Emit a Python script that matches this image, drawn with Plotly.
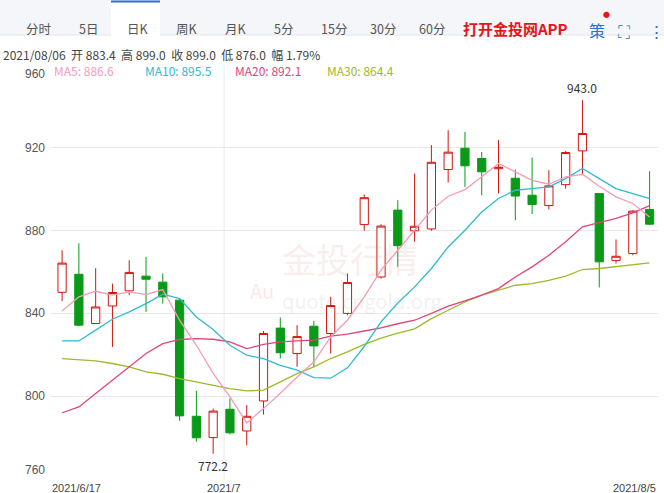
import plotly.graph_objects as go

dates = (["2021/6/%d" % d for d in [17,18,21,22,23,24,25,28,29,30]] +
         ["2021/7/%d" % d for d in [1,2,5,6,7,8,9,12,13,14,15,16,19,20,21,22,23,26,27,28,29,30]] +
         ["2021/8/%d" % d for d in [2,3,4,5]])
opens = [850.2,858.9,835.1,843.6,850.9,858.0,855.1,846.4,790.3,780.0,793.7,783.2,797.7,832.9,820.6,833.8,830.3,
         840.0,882.9,857.6,889.9,879.9,880.8,909.5,919.8,914.8,909.9,905.3,897.1,892.1,902.2,918.5,897.9,865.6,868.9,890.2]
highs = [870.5,873.9,861.8,854.4,865.7,867.3,859.3,847.2,802.6,794.0,798.9,795.7,831.5,838.0,834.3,836.4,848.0,
         859.3,897.4,883.1,894.7,907.6,921.3,928.5,927.7,918.0,923.7,909.5,915.3,909.2,918.5,943.0,898.0,875.7,889.9,908.7]
lows = [845.9,833.8,835.0,823.8,848.8,840.7,844.7,788.1,778.0,772.2,781.5,776.3,791.1,818.2,814.2,814.2,820.6,
        839.1,879.9,856.8,862.5,874.6,879.9,903.2,901.1,897.1,897.9,885.0,888.0,890.2,900.3,906.8,852.5,864.1,868.1,882.6]
closes = [864.3,834.3,843.1,850.1,859.8,856.5,848.0,790.5,779.9,792.8,782.3,790.3,830.3,821.0,828.8,824.3,843.8,
          854.9,895.9,882.2,872.7,882.1,913.0,917.9,911.3,908.4,910.6,896.7,892.6,901.6,917.7,926.9,864.9,867.6,889.4,883.1]
ma5 = [841.2,848.0,850.7,848.8,850.4,849.1,851.5,836.7,824.6,811.0,799.7,787.1,794.0,801.4,809.3,816.6,828.6,
       836.7,848.0,860.9,870.5,880.2,889.9,896.6,899.8,906.0,912.4,908.4,904.3,902.4,906.0,907.2,901.4,896.3,893.1,886.6]
ma10 = [826.7,826.7,831.9,837.2,840.7,844.7,849.3,847.2,838.3,832.2,824.6,819.8,818.2,814.9,812.6,809.0,808.7,
        813.7,824.0,835.9,845.0,852.8,861.7,872.1,880.2,889.0,895.5,899.5,900.3,901.1,905.1,910.0,905.1,900.3,897.9,895.5]
ma20 = [792.0,794.8,801.3,807.7,814.2,820.6,825.4,827.4,827.8,827.5,826.2,823.0,825.0,826.2,826.7,827.1,829.0,
        830.0,831.5,833.0,835.0,836.7,840.0,843.5,846.0,848.8,852.0,857.6,862.5,868.1,874.6,881.8,883.8,885.9,888.6,892.1]
ma30 = [818.2,817.7,817.1,815.8,814.2,811.7,810.6,808.5,806.9,805.3,803.7,802.6,802.9,806.9,810.9,814.2,818.2,
        821.4,825.0,828.0,830.5,832.5,837.5,841.5,845.5,848.8,851.2,853.6,854.4,856.0,858.0,861.2,861.7,862.5,863.3,864.4]
yticks = [760, 800, 840, 880, 920, 960]
tabs = ["分时", "5日", "日K", "周K", "月K", "5分", "15分", "30分", "60分"]

x = list(range(len(dates)))
fig = go.Figure()
fig.add_trace(go.Candlestick(x=x, open=opens, high=highs, low=lows, close=closes,
    increasing=dict(line=dict(color="#d0160f", width=1), fillcolor="white"),
    decreasing=dict(line=dict(color="#0a9a17", width=1), fillcolor="#0a9a17"),
    whiskerwidth=0, showlegend=False, hoverinfo="skip"))
for vals, col in [(ma30, "#9cba2a"), (ma20, "#e0457b"), (ma10, "#2cbcd0"), (ma5, "#f29db5")]:
    fig.add_trace(go.Scatter(x=x, y=vals, mode="lines", line=dict(color=col, width=1.3),
                             showlegend=False, hoverinfo="skip"))

fig.update_layout(width=664, height=493, margin=dict(l=50, r=6, t=65, b=14),
    paper_bgcolor="white", plot_bgcolor="white", font=dict(family="Noto Sans CJK SC", color="#555", size=12),
    xaxis=dict(range=[-0.72, 35.5], showgrid=False, showticklabels=False, rangeslider=dict(visible=False),
               zeroline=False, fixedrange=True),
    yaxis=dict(range=[760, 960], tickvals=yticks, gridcolor="#e8e8e8", zeroline=False,
               showticklabels=False, ticks=""))

def px2paper_x(px):
    return (px - 50) / 608
def py2paper_y(py):
    return (479 - py) / 414

shapes = []
shapes.append(dict(type="rect", xref="paper", yref="paper", x0=px2paper_x(0), x1=px2paper_x(664),
              y0=py2paper_y(35), y1=py2paper_y(0), fillcolor="#f4f6f9", line=dict(width=0)))
shapes.append(dict(type="line", xref="paper", yref="paper", x0=px2paper_x(0), x1=px2paper_x(664),
              y0=py2paper_y(35), y1=py2paper_y(35), line=dict(color="#e3e6ea", width=1)))
shapes.append(dict(type="rect", xref="paper", yref="paper", x0=px2paper_x(111), x1=px2paper_x(160),
              y0=py2paper_y(36), y1=py2paper_y(1), fillcolor="white", line=dict(width=0)))
shapes.append(dict(type="line", xref="paper", yref="paper", x0=px2paper_x(111), x1=px2paper_x(160),
              y0=py2paper_y(1.5), y1=py2paper_y(1.5), line=dict(color="#2a6fdb", width=2)))
shapes.append(dict(type="line", xref="x", yref="paper", x0=9.65, x1=9.65, y0=0, y1=1,
                   line=dict(color="#e8e8e8", width=1), layer="below"))
fig.update_layout(shapes=shapes)

ann = []
tab_left = [24, 77, 125, 174, 223, 272, 319, 368, 417]
for t, tx in zip(tabs, tab_left):
    ann.append(dict(x=px2paper_x(tx), y=py2paper_y(17), xanchor="left", text=t, font=dict(size=12.5, color="#555")))
ann.append(dict(x=px2paper_x(461), y=py2paper_y(16), xanchor="left", text="<b>打开金投网APP</b>", font=dict(size=15, color="#e8141c")))
ann.append(dict(x=px2paper_x(587), y=py2paper_y(16), xanchor="left", text="策", font=dict(size=16, color="#2a6fdb")))
ann.append(dict(x=px2paper_x(601), y=py2paper_y(7), xanchor="left", text="●", font=dict(size=7, color="#e8141c")))
ann.append(dict(x=px2paper_x(616), y=py2paper_y(16), xanchor="left", text="⛶", font=dict(size=17, color="#2a6fdb")))
ann.append(dict(x=px2paper_x(646), y=py2paper_y(16), xanchor="left", text="⋮", font=dict(size=17, color="#2a6fdb")))
ann.append(dict(x=px2paper_x(1), y=py2paper_y(44), xanchor="left", text="2021/08/06  开 883.4  高 899.0  收 899.0  低 876.0  幅 1.79%",
                font=dict(size=12, color="#444")))
for txt, px_, col in [("MA5: 886.6", 52, "#f29db5"), ("MA10: 895.5", 143, "#2cbcd0"),
                      ("MA20: 892.1", 233, "#e0457b"), ("MA30: 864.4", 325, "#9cba2a")]:
    ann.append(dict(x=px2paper_x(px_), y=py2paper_y(60), xanchor="left", text=txt, font=dict(size=12, color=col)))
# y tick labels (top/bottom kept inside the plot band as in the original)
yl_font = dict(size=12, color="#555", family="Liberation Sans")
for v in yticks:
    anchor = "top" if v == max(yticks) else ("bottom" if v == min(yticks) else "middle")
    ann.append(dict(x=0, xshift=-3, y=v, yref="y", xanchor="right", yanchor=anchor, text=str(v), font=yl_font))
ann.append(dict(x=px2paper_x(248), y=py2paper_y(290), text="Au", font=dict(size=20, color="rgba(220,120,110,0.18)")))
ann.append(dict(x=px2paper_x(350), y=py2paper_y(258), text="金投行情", font=dict(size=34, color="rgba(220,120,110,0.14)")))
ann.append(dict(x=px2paper_x(362), y=py2paper_y(300), text="quote.cngold.org", font=dict(size=20, color="rgba(170,170,170,0.18)")))
ann.append(dict(x=31, y=943.0, xref="x", yref="y", yanchor="bottom", yshift=2, text="943.0", font=dict(size=12, color="#333")))
ann.append(dict(x=9, y=772.2, xref="x", yref="y", yanchor="top", yshift=-1, text="772.2", font=dict(size=12, color="#333")))
xl_font = dict(size=11, color="#444", family="Liberation Sans")
ann.append(dict(x=0, y=py2paper_y(480), xanchor="left", yanchor="top", text=dates[0], font=xl_font))
ann.append(dict(x=9.65, y=py2paper_y(480), xref="x", xanchor="center", yanchor="top", text="2021/7", font=xl_font))
ann.append(dict(x=1, y=py2paper_y(480), xanchor="right", yanchor="top", text=dates[-1], font=xl_font))
for a in ann:
    a.setdefault("xref", "paper"); a.setdefault("yref", "paper"); a["showarrow"] = False
fig.update_layout(annotations=ann)
fig.write_html("out.html", config={"displayModeBar": False})
with open("out.html", encoding="utf-8") as f:
    html = f.read()
html = html.replace("<body>", '<body style="margin:0;overflow:hidden">', 1)
with open("out.html", "w", encoding="utf-8") as f:
    f.write(html)
